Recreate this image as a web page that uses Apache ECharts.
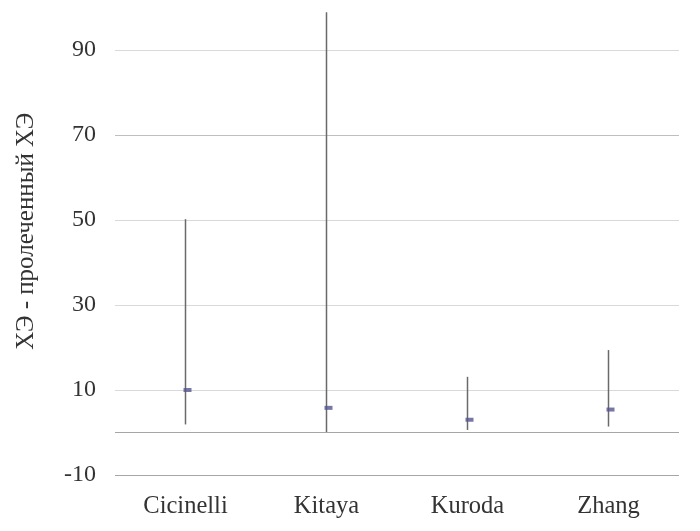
<!DOCTYPE html>
<html>
<head>
<meta charset="utf-8">
<script src="https://cdn.jsdelivr.net/npm/echarts@6/dist/echarts.min.js"></script>
<style>html,body{margin:0;padding:0;background:#fff}#c{width:700px;height:531px}</style>
</head>
<body>
<div id="c"></div>
<script>
const categories = ['Cicinelli', 'Kitaya', 'Kuroda', 'Zhang'];
const estimate = [10, 5.8, 3.0, 5.4];
const lower = [1.9, 0.1, 0.6, 1.4];
const upper = [50.2, 98.9, 13.1, 19.4];
const yTicks = [-10, 10, 30, 50, 70, 90];

const chart = echarts.init(document.getElementById('c'), null, {renderer: 'canvas'});
const font = '"Liberation Serif", "Times New Roman", serif';
chart.setOption({
  animation: false,
  backgroundColor: '#ffffff',
  grid: {left: 115, right: 21, top: 7.5, bottom: 56},
  xAxis: {
    type: 'category',
    data: categories,
    axisLine: {show: false, onZero: false},
    axisTick: {show: false},
    axisLabel: {fontFamily: font, fontSize: 24.5, color: '#333333', margin: 19}
  },
  yAxis: {
    type: 'value',
    min: -10,
    max: 100,
    interval: 20,
    name: 'ХЭ - пролеченный ХЭ',
    nameLocation: 'middle',
    nameGap: 76,
    nameTextStyle: {fontFamily: font, fontSize: 25, color: '#333333', padding: [0, 0, 0, 20]},
    axisLine: {show: false},
    axisTick: {show: false},
    axisLabel: {
      fontFamily: font, fontSize: 24, color: '#333333', margin: 19,
      formatter: v => (yTicks.indexOf(v) >= 0 ? String(v) : '')
    },
    splitLine: {
      lineStyle: {
        width: 1,
        color: ['#a6a6a6', '#d9d9d9', '#d9d9d9', '#d9d9d9', '#bfbfbf', '#d9d9d9', 'rgba(0,0,0,0)']
      }
    }
  },
  series: [
    {
      type: 'custom',
      data: categories.map((c, i) => [i, lower[i], upper[i]]),
      renderItem: function (params, api) {
        const lo = api.coord([api.value(0), api.value(1)]);
        const hi = api.coord([api.value(0), api.value(2)]);
        return {
          type: 'line',
          shape: {x1: lo[0], y1: lo[1], x2: hi[0], y2: hi[1]},
          style: {stroke: '#6a6a6a', lineWidth: 1.5}
        };
      },
      markLine: {
        silent: true,
        symbol: 'none',
        label: {show: false},
        lineStyle: {color: '#a6a6a6', type: 'solid', width: 1},
        data: [{yAxis: 0}]
      },
      z: 2
    },
    {
      type: 'scatter',
      data: categories.map((c, i) => [i, estimate[i]]),
      symbol: 'rect',
      symbolSize: [8, 4],
      symbolOffset: [2, 0],
      itemStyle: {color: '#55558f'},
      z: 3
    }
  ]
});
</script>
</body>
</html>
